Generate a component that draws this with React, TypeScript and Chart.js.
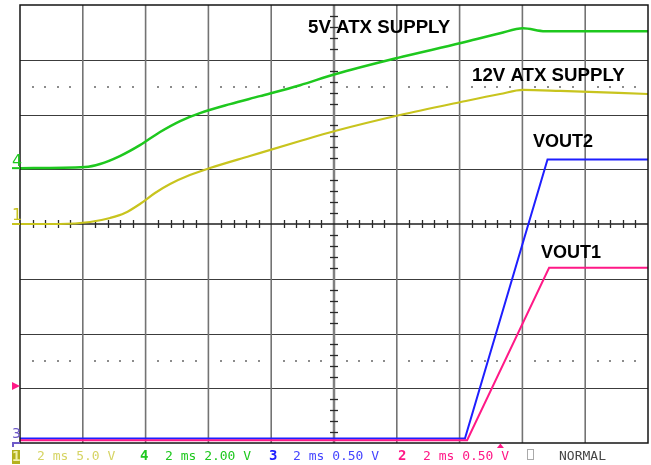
import { useEffect, useRef } from "react";
import { Chart, registerables } from "chart.js";

Chart.register(...registerables);

// Time base: 2 ms/div, 10 divisions -> 0..20 ms
const TIME_MIN = 0;
const TIME_MAX = 20;

// Channel 4: 5V ATX supply (2.00 V/div)
const CH4_T = [0, 2.07, 2.55, 3.18, 3.82, 4.46, 5.1, 5.73, 6.69, 7.64, 8.92, 10.03, 12.0, 14.04, 15.29, 16.02, 16.72, 20];
const CH4_V = [0, 0.04, 0.15, 0.44, 0.84, 1.32, 1.72, 2.01, 2.34, 2.63, 3.03, 3.43, 4.02, 4.57, 4.93, 5.11, 5.0, 5.0];

// Channel 1: 12V ATX supply (5.0 V/div)
const CH1_T = [0, 1.27, 2.23, 2.87, 3.34, 3.82, 4.3, 4.78, 5.41, 6.05, 7.32, 8.92, 10.03, 12.1, 14.04, 15.29, 16.02, 17.2, 20];
const CH1_V = [0, 0, 0.18, 0.55, 1.0, 1.83, 2.83, 3.65, 4.47, 5.11, 6.21, 7.58, 8.49, 9.95, 11.14, 11.87, 12.24, 12.15, 11.87];

// Channel 3: VOUT2 (0.50 V/div)
const CH3_T = [0, 14.17, 16.8, 20];
const CH3_V = [0, 0, 2.55, 2.55];

// Channel 2: VOUT1 (0.50 V/div)
const CH2_T = [0, 14.24, 16.85, 20];
const CH2_V = [0, 0, 1.575, 1.575];

// Volts per division and ground-marker offset (in divisions from screen centre)
const CH1_VDIV = 5;
const CH2_VDIV = 0.5;
const CH3_VDIV = 0.5;
const CH4_VDIV = 2;
const CH1_OFFSET = 0;
const CH2_OFFSET = -3.95;
const CH3_OFFSET = -3.92;
const CH4_OFFSET = 1.02;

const LABELS = ["5V ATX SUPPLY", "12V ATX SUPPLY", "VOUT2", "VOUT1"];
const STATUS = ["2 ms 5.0 V", "2 ms 2.00 V", "2 ms 0.50 V", "2 ms 0.50 V", "NORMAL"];

const C_YEL = "rgb(200,196,30)";
const C_YEL_TXT = "rgb(214,212,100)";
const C_GRN = "rgb(30,200,30)";
const C_BLU = "rgb(30,30,255)";
const C_PNK = "rgb(255,25,135)";

function pts(t: number[], v: number[]) {
  return t.map((x, i) => ({ x, y: v[i] }));
}

function axis(vdiv: number, offset: number) {
  return {
    type: "linear" as const,
    display: false,
    min: (-4 - offset) * vdiv,
    max: (4 - offset) * vdiv,
  };
}

const scopePlugin = {
  id: "scopeGrid",
  beforeDatasetsDraw(chart: any) {
    const { ctx, chartArea: a } = chart;
    const dx = (a.right - a.left) / 10;
    const dy = (a.bottom - a.top) / 8;
    const cx = a.left + 5 * dx;
    const cy = a.top + 4 * dy;
    ctx.save();
    ctx.strokeStyle = "rgb(60,60,60)";
    ctx.lineWidth = 1.2;
    for (let i = 1; i < 8; i++) {
      if (i === 4) continue;
      const y = Math.round(a.top + i * dy) + 0.5;
      ctx.beginPath();
      ctx.moveTo(a.left, y);
      ctx.lineTo(a.right, y);
      ctx.stroke();
    }
    ctx.strokeStyle = "rgb(115,115,115)";
    ctx.lineWidth = 1.6;
    for (let i = 1; i < 10; i++) {
      if (i === 5) continue;
      const x = a.left + i * dx;
      ctx.beginPath();
      ctx.moveTo(x, a.top);
      ctx.lineTo(x, a.bottom);
      ctx.stroke();
    }
    ctx.fillStyle = "rgb(140,140,140)";
    for (const r of [1.5, 6.5]) {
      const y = a.top + r * dy;
      for (let j = 1; j < 50; j++) {
        if (j % 5 === 0) continue;
        const x = a.left + (j * dx) / 5;
        ctx.fillRect(Math.round(x) - 1, Math.round(y) - 1, 2, 2);
      }
    }
    ctx.strokeStyle = "rgb(128,128,128)";
    ctx.lineWidth = 2.5;
    ctx.beginPath();
    ctx.moveTo(cx, a.top);
    ctx.lineTo(cx, a.bottom);
    ctx.stroke();
    ctx.strokeStyle = "rgb(30,30,30)";
    ctx.lineWidth = 1.5;
    ctx.beginPath();
    ctx.moveTo(a.left, cy);
    ctx.lineTo(a.right, cy);
    ctx.stroke();
    ctx.strokeStyle = "rgb(40,40,40)";
    ctx.lineWidth = 1.3;
    for (let j = 1; j < 50; j++) {
      if (j % 5 === 0) continue;
      const x = Math.round(a.left + (j * dx) / 5) + 0.5;
      ctx.beginPath();
      ctx.moveTo(x, cy - 4);
      ctx.lineTo(x, cy + 4);
      ctx.stroke();
    }
    for (let j = 1; j < 40; j++) {
      if (j % 5 === 0) continue;
      const y = Math.round(a.top + (j * dy) / 5) + 0.5;
      ctx.beginPath();
      ctx.moveTo(cx - 4, y);
      ctx.lineTo(cx + 4, y);
      ctx.stroke();
    }
    ctx.restore();
  },
  afterDatasetsDraw(chart: any) {
    const { ctx, chartArea: a } = chart;
    ctx.save();
    ctx.strokeStyle = "rgb(20,20,20)";
    ctx.lineWidth = 1.5;
    ctx.strokeRect(a.left, a.top, a.right - a.left, a.bottom - a.top);

    ctx.fillStyle = "#000";
    ctx.textBaseline = "alphabetic";
    ctx.textAlign = "left";
    ctx.font = "bold 18.7px 'Liberation Sans', Arial, sans-serif";
    ctx.fillText(LABELS[0], 308, 33);
    ctx.fillText(LABELS[1], 472, 81);
    ctx.font = "bold 18px 'Liberation Sans', Arial, sans-serif";
    ctx.fillText(LABELS[2], 533, 147);
    ctx.fillText(LABELS[3], 541, 258);

    const y4 = chart.scales.y4.getPixelForValue(0);
    const y1 = chart.scales.y1.getPixelForValue(0);
    ctx.font = "16px 'DejaVu Sans', sans-serif";
    ctx.fillStyle = C_GRN;
    ctx.fillText("4", 12, y4 - 2);
    ctx.fillRect(12, y4 - 1, 8, 2);
    ctx.fillStyle = C_YEL;
    ctx.fillText("1", 12, y1 - 4);
    ctx.fillRect(12, y1 - 1, 8, 2);
    ctx.fillStyle = C_PNK;
    ctx.beginPath();
    ctx.moveTo(12, 382);
    ctx.lineTo(20, 386);
    ctx.lineTo(12, 390);
    ctx.closePath();
    ctx.fill();
    ctx.fillStyle = "rgb(110,90,200)";
    ctx.font = "14px 'DejaVu Sans', sans-serif";
    ctx.fillText("3", 12, 438);
    ctx.fillRect(12, 442, 8, 2);
    ctx.fillRect(12, 442, 2, 5);

    const base = 460;
    const mono = "13px 'DejaVu Sans Mono', monospace";
    const monoB = "bold 14px 'DejaVu Sans Mono', monospace";
    ctx.fillStyle = "rgb(180,178,30)";
    ctx.fillRect(12, 450, 8, 14);
    ctx.fillStyle = "rgb(240,240,170)";
    ctx.font = monoB;
    ctx.fillText("1", 12, base + 1);
    ctx.font = mono;
    ctx.fillStyle = C_YEL_TXT;
    ctx.fillText(STATUS[0], 37, base);
    ctx.font = monoB;
    ctx.fillStyle = C_GRN;
    ctx.fillText("4", 140, base);
    ctx.font = mono;
    ctx.fillText(STATUS[1], 165, base);
    ctx.font = monoB;
    ctx.fillStyle = C_BLU;
    ctx.fillText("3", 269, base);
    ctx.font = mono;
    ctx.fillStyle = "rgb(70,70,255)";
    ctx.fillText(STATUS[2], 293, base);
    ctx.font = monoB;
    ctx.fillStyle = C_PNK;
    ctx.fillText("2", 398, base);
    ctx.font = mono;
    ctx.fillText(STATUS[3], 423, base);
    const tx = chart.scales.x.getPixelForValue(15.3);
    ctx.beginPath();
    ctx.moveTo(tx - 3.5, 448);
    ctx.lineTo(tx, 443.5);
    ctx.lineTo(tx + 3.5, 448);
    ctx.closePath();
    ctx.fill();
    ctx.strokeStyle = "rgb(170,170,170)";
    ctx.lineWidth = 1;
    ctx.strokeRect(527.5, 449.5, 6, 10);
    ctx.fillStyle = "rgb(70,70,70)";
    ctx.font = mono;
    ctx.fillText(STATUS[4], 559, base);
    ctx.restore();
  },
};

export default function App() {
  const ref = useRef<HTMLCanvasElement | null>(null);
  useEffect(() => {
    document.body.style.margin = "0";
    const canvas = ref.current;
    if (!canvas) return;
    const chart = new Chart(canvas, {
      type: "line",
      data: {
        datasets: [
          {
            label: "CH1 12V",
            data: pts(CH1_T, CH1_V),
            yAxisID: "y1",
            borderColor: C_YEL,
            borderWidth: 2.2,
            pointRadius: 0,
            cubicInterpolationMode: "monotone",
            clip: false,
          },
          {
            label: "CH4 5V",
            data: pts(CH4_T, CH4_V),
            yAxisID: "y4",
            borderColor: C_GRN,
            borderWidth: 2.5,
            pointRadius: 0,
            cubicInterpolationMode: "monotone",
            clip: false,
          },
          {
            label: "CH2 VOUT1",
            data: pts(CH2_T, CH2_V),
            yAxisID: "y2",
            borderColor: C_PNK,
            borderWidth: 2,
            pointRadius: 0,
            tension: 0,
            clip: false,
          },
          {
            label: "CH3 VOUT2",
            data: pts(CH3_T, CH3_V),
            yAxisID: "y3",
            borderColor: C_BLU,
            borderWidth: 2,
            pointRadius: 0,
            tension: 0,
            clip: false,
          },
        ],
      },
      options: {
        responsive: false,
        animation: false,
        devicePixelRatio: 1,
        layout: { padding: { left: 20, top: 5, right: 3, bottom: 22 } },
        plugins: { legend: { display: false }, tooltip: { enabled: false } },
        scales: {
          x: { type: "linear", display: false, min: TIME_MIN, max: TIME_MAX },
          y1: axis(CH1_VDIV, CH1_OFFSET),
          y2: axis(CH2_VDIV, CH2_OFFSET),
          y3: axis(CH3_VDIV, CH3_OFFSET),
          y4: axis(CH4_VDIV, CH4_OFFSET),
        },
      },
      plugins: [scopePlugin],
    });
    return () => chart.destroy();
  }, []);
  return (
    <div style={{ position: "fixed", left: 0, top: 0, width: 651, height: 465, background: "#fff" }}>
      <canvas ref={ref} width={651} height={465} style={{ display: "block" }} />
    </div>
  );
}
